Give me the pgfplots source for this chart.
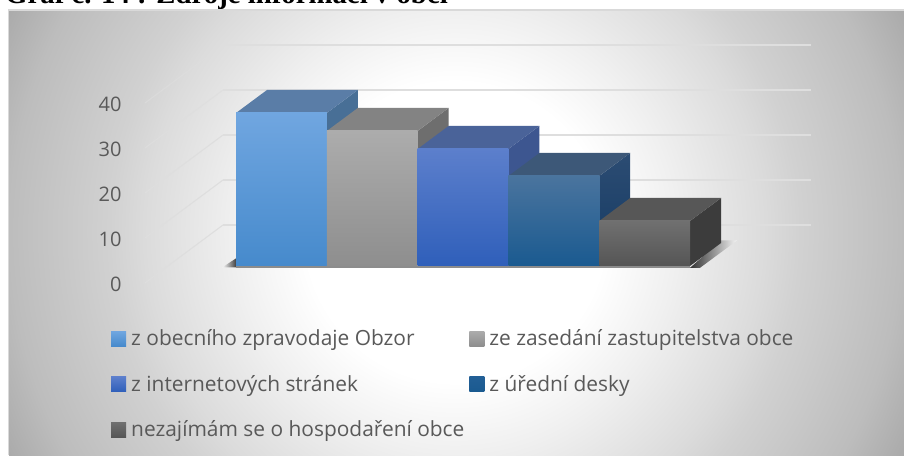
\documentclass[border=0pt]{standalone}
\usepackage{pgfplots}
\usepackage{fontspec}
\pgfplotsset{compat=1.18}
\setmainfont{Open Sans}
\newfontfamily\titlefont{Liberation Serif}
\definecolor{gridc}{HTML}{DEDEDE}
\definecolor{txt}{HTML}{595959}
\definecolor{aT}{RGB}{112,166,224}\definecolor{aM}{RGB}{84,153,220}\definecolor{aB}{RGB}{70,138,204}\definecolor{aS}{RGB}{72,111,150}\definecolor{aR}{RGB}{90,125,167}
\definecolor{bT}{RGB}{172,172,172}\definecolor{bM}{RGB}{163,163,163}\definecolor{bB}{RGB}{142,142,142}\definecolor{bS}{RGB}{110,110,110}\definecolor{bR}{RGB}{131,131,131}
\definecolor{cT}{RGB}{92,127,204}\definecolor{cM}{RGB}{66,113,207}\definecolor{cB}{RGB}{47,95,186}\definecolor{cS}{RGB}{61,86,144}\definecolor{cR}{RGB}{74,99,153}
\definecolor{dT}{RGB}{74,116,158}\definecolor{dM}{RGB}{34,95,150}\definecolor{dB}{RGB}{26,90,144}\definecolor{dSt}{RGB}{44,76,115}\definecolor{dSb}{RGB}{20,58,98}\definecolor{dR}{RGB}{61,88,120}
\definecolor{eT}{RGB}{112,112,112}\definecolor{eB}{RGB}{85,85,85}\definecolor{eS}{RGB}{60,60,60}\definecolor{eR}{RGB}{87,87,87}
\pgfdeclareradialshading{bgshade}{\pgfpoint{0bp}{0bp}}{
 color(0bp)=(white); color(7.2bp)=(white); color(10.65bp)=(black!6); color(14.9bp)=(black!14);
 color(16.6bp)=(black!18); color(21.45bp)=(black!26); color(23.95bp)=(black!33); color(25bp)=(black!35); color(50bp)=(black!35)}
\pgfplotsset{
 canvas/.style={width=904pt,height=455pt,scale only axis,clip=false,at={(0,0)},anchor=south west},
 sq/.style={legend image code/.code={\path[##1,draw=none] (0pt,-5.5pt) rectangle (15pt,9.5pt);}},
}
\begin{document}
\begin{tikzpicture}[x=1pt,y=1pt]
\path[use as bounding box,clip] (0,0) rectangle (904,455);
\node[anchor=base west,inner sep=0,font=\titlefont\bfseries\fontsize{28.8}{28.8}\selectfont,text=black] at (5,451) {Graf č. 14 : Zdroje informací v obci};
\begin{scope}
\clip (9,0) rectangle (904,445);
\shade[shading=bgshade] (455-520,223-520) rectangle (455+520,223+520);
\end{scope}
\draw[black!15,line width=1.5pt] (8.5,0) -- (8.5,445) -- (904,445);
% axis holding the value scale and the walls
\begin{axis}[width=779pt,height=455pt,scale only axis,clip=false,at={(125pt,0)},anchor=south west,
 xmin=125,xmax=904,ymin=-37.89,ymax=63.22,
 axis line style={draw=none},tick style={draw=none},
 xtick=\empty,ytick={0,10,20,30,40},
 yticklabel style={text=txt,font=\fontsize{20}{20}\selectfont},
 /pgf/number format/assume math mode=true]
\addplot[gridc,line width=1.1pt] coordinates {(145,0.33)(223,13.22)};
\addplot[gridc,line width=1.1pt] coordinates {(145,10.33)(223,23.22)};
\addplot[gridc,line width=1.1pt] coordinates {(145,20.33)(223,33.22)};
\addplot[gridc,line width=1.1pt,opacity=.8] coordinates {(145,30.33)(223,43.22)};
\addplot[gridc,line width=1.1pt,opacity=.6] coordinates {(145,40.33)(223,53.22)};
\addplot[gridc,line width=1.6pt] coordinates {(223,13.22)(811,13.22)};
\addplot[gridc,line width=1.6pt] coordinates {(223,23.22)(811,23.22)};
\addplot[gridc,line width=1.6pt] coordinates {(223,33.22)(811,33.22)};
\addplot[gridc,line width=1.6pt] coordinates {(223,43.22)(811,43.22)};
\addplot[gridc,line width=1.6pt] coordinates {(223,53.22)(811,53.22)};
\end{axis}
% axis holding the bars
\begin{axis}[canvas,hide y axis,hide x axis,
 xmin=-2.099,xmax=7.856,ymin=-42.0,ymax=59.11,
 legend columns=2,legend cell align=left,
 legend style={at={(111pt,124.5pt)},anchor=north west,draw=none,fill=none,inner sep=0pt,
  font=\fontsize{20.9}{20.9}\selectfont,text=txt,
  nodes={inner ysep=0pt,inner xsep=0pt,text height=15pt,text depth=5pt},
  /tikz/row sep=25.5pt,/tikz/column sep=5pt},
 bar/.style={ybar,bar width=1,bar shift=0pt,draw=none,forget plot},
 face/.style={draw=none,forget plot}]
% floor shadows
\addplot[face,left color=black!80,right color=black!4] coordinates {(5.5,-.4)(5.841,5.67)(6.017,5.67)(5.61,-.4)} --cycle;
\addplot[face,left color=black!3,right color=black!75] coordinates {(0.35,-.3)(0.5,1.7)(0.5,-.3)} --cycle;
\addplot[face,fill=black!45] coordinates {(0.5,-.4)(5.5,-.4)(5.5,0)(0.5,0)} --cycle;
% bar 1
\addplot[face,fill=aS] coordinates {(1.5,34)(1.841,39.11)(1.841,5.11)(1.5,0)} --cycle;
\addplot[face,fill=aR] coordinates {(0.5,34)(0.841,39.11)(1.841,39.11)(1.5,34)} --cycle;
\addplot[bar,top color=aT,middle color=aM,bottom color=aB] coordinates {(1,34)};
% bar 2
\addplot[face,fill=bS] coordinates {(2.5,30)(2.841,35.11)(2.841,5.11)(2.5,0)} --cycle;
\addplot[face,fill=bR] coordinates {(1.5,30)(1.841,35.11)(2.841,35.11)(2.5,30)} --cycle;
\addplot[bar,top color=bT,middle color=bM,bottom color=bB] coordinates {(2,30)};
% bar 3
\addplot[face,fill=cS] coordinates {(3.5,26)(3.841,31.11)(3.841,5.11)(3.5,0)} --cycle;
\addplot[face,fill=cR] coordinates {(2.5,26)(2.841,31.11)(3.841,31.11)(3.5,26)} --cycle;
\addplot[bar,top color=cT,middle color=cM,bottom color=cB] coordinates {(3,26)};
% bar 4
\addplot[face,top color=dSt,bottom color=dSb] coordinates {(4.5,20)(4.841,25.11)(4.841,5.11)(4.5,0)} --cycle;
\addplot[face,fill=dR] coordinates {(3.5,20)(3.841,25.11)(4.841,25.11)(4.5,20)} --cycle;
\addplot[bar,top color=dT,middle color=dM,bottom color=dB] coordinates {(4,20)};
% bar 5
\addplot[face,fill=eS] coordinates {(5.5,10)(5.841,15.11)(5.841,5.11)(5.5,0)} --cycle;
\addplot[face,fill=eR] coordinates {(4.5,10)(4.841,15.11)(5.841,15.11)(5.5,10)} --cycle;
\addplot[bar,top color=eT,bottom color=eB] coordinates {(5,10)};
% legend
\addlegendimage{sq,top color=aT,bottom color=aB}
\addlegendentry{z obecního zpravodaje Obzor}
\addlegendimage{sq,top color=bT,bottom color=bB}
\addlegendentry{ze zasedání zastupitelstva obce}
\addlegendimage{sq,top color=cT,bottom color=cB}
\addlegendentry{z internetových stránek}
\addlegendimage{sq,top color=dM,bottom color=dB}
\addlegendentry{z úřední desky}
\addlegendimage{sq,top color=eT,bottom color=eB}
\addlegendentry{nezajímám se o hospodaření obce}
\end{axis}
\end{tikzpicture}
\end{document}
